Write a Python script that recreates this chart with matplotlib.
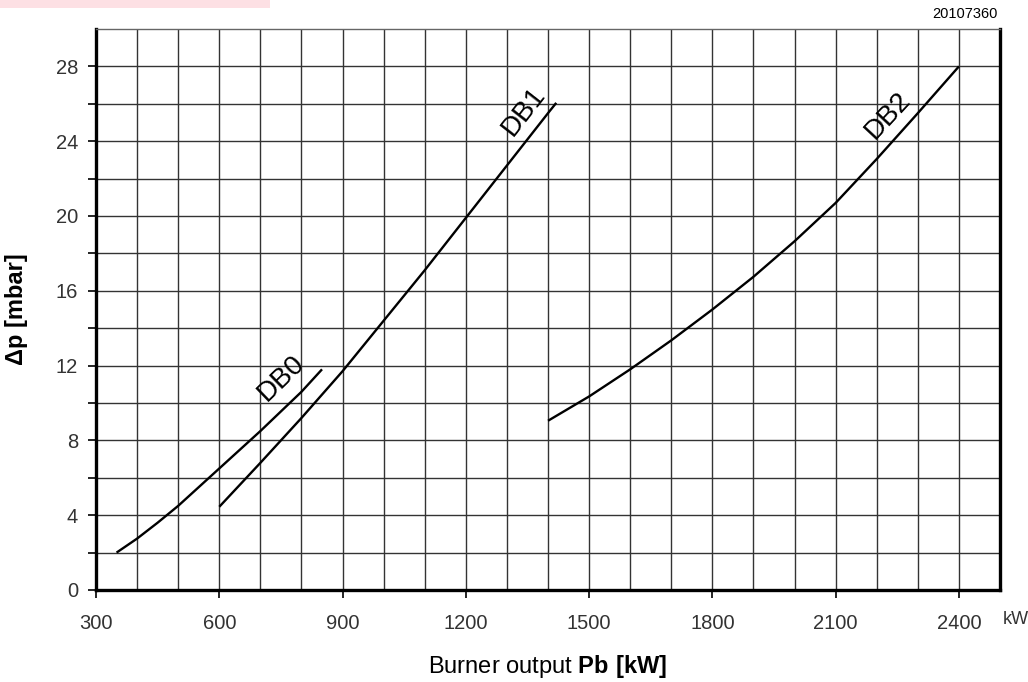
import matplotlib.pyplot as plt
from matplotlib.patches import Rectangle

plt.rcParams['font.family'] = ['Liberation Sans', 'DejaVu Sans']
plt.rcParams['mathtext.fontset'] = 'custom'
plt.rcParams['mathtext.rm'] = 'Liberation Sans'
plt.rcParams['mathtext.bf'] = 'Liberation Sans:bold'

# pressure drop curves, burner output [kW] vs delta p [mbar]
db0_kw = [350, 400, 450, 500, 550, 600, 650, 700, 750, 800, 850]
db0_mbar = [2.0, 2.75, 3.6, 4.5, 5.5, 6.5, 7.5, 8.5, 9.55, 10.6, 11.8]

db1_kw = [600, 700, 800, 900, 1000, 1100, 1200, 1300, 1400, 1420]
db1_mbar = [4.45, 6.8, 9.2, 11.7, 14.4, 17.1, 19.9, 22.7, 25.5, 26.05]

db2_kw = [1400, 1500, 1600, 1700, 1800, 1900, 2000, 2100, 2200, 2300, 2400]
db2_mbar = [9.05, 10.35, 11.8, 13.35, 15.0, 16.75, 18.65, 20.7, 23.05, 25.5, 28.0]

x_ticks = [300, 600, 900, 1200, 1500, 1800, 2100, 2400]
y_ticks = [0, 4, 8, 12, 16, 20, 24, 28]

fig = plt.figure(figsize=(10.28, 6.82), dpi=100)
ax = fig.add_axes([0.0934, 0.1349, 0.8794, 0.8226])

ax.plot(db0_kw, db0_mbar, color='black', lw=1.7, solid_capstyle='butt')
ax.plot(db1_kw, db1_mbar, color='black', lw=1.7, solid_capstyle='butt')
ax.plot(db2_kw, db2_mbar, color='black', lw=1.7, solid_capstyle='butt')

ax.text(750, 11.3, 'DB0', rotation=44, fontsize=20, ha='center', va='center')
ax.text(1340, 25.6, 'DB1', rotation=52, fontsize=20, ha='center', va='center')
ax.text(2228, 25.35, 'DB2', rotation=47, fontsize=20, ha='center', va='center')

ax.set_xlim(300, 2500)
ax.set_ylim(0, 30)

# grid every 100 kW / 2 mbar
for x in range(400, 2500, 100):
    ax.axvline(x, color='#333333', lw=1.0, zorder=0)
for y in range(2, 30, 2):
    ax.axhline(y, color='#333333', lw=1.0, zorder=0)

ax.set_xticks(x_ticks)
ax.set_yticks(range(0, 30, 2))
ax.set_yticklabels([str(v) if v in y_ticks else '' for v in range(0, 30, 2)])
ax.tick_params(axis='both', direction='out', length=6, width=1.2, color='black',
               labelcolor='#333333', labelsize=14.5)
ax.tick_params(axis='y', pad=7)
ax.tick_params(axis='x', pad=11)

for side in ['left', 'bottom', 'right']:
    ax.spines[side].set_linewidth(2.4)
ax.spines['top'].set_linewidth(1.0)
ax.spines['top'].set_color('#666666')

# unit next to the last x tick label (pixel position, origin bottom-left)
ax.text(1016, 63, 'kW', transform=None, fontsize=13, color='#333333',
        ha='center', va='center')

ax.set_xlabel(r'Burner output $\mathbf{Pb\ [kW]}$', fontsize=17, labelpad=15)
ax.set_ylabel('Δp [mbar]', fontsize=17, fontweight='bold', labelpad=20)

fig.text(0.97, 0.98, '20107360', fontsize=10.5, ha='right', va='center')
fig.patches.append(Rectangle((0, 0.989), 0.263, 0.011, transform=fig.transFigure,
                             facecolor='#fde0e4', edgecolor='none'))

fig.savefig('out.png', dpi=100)
